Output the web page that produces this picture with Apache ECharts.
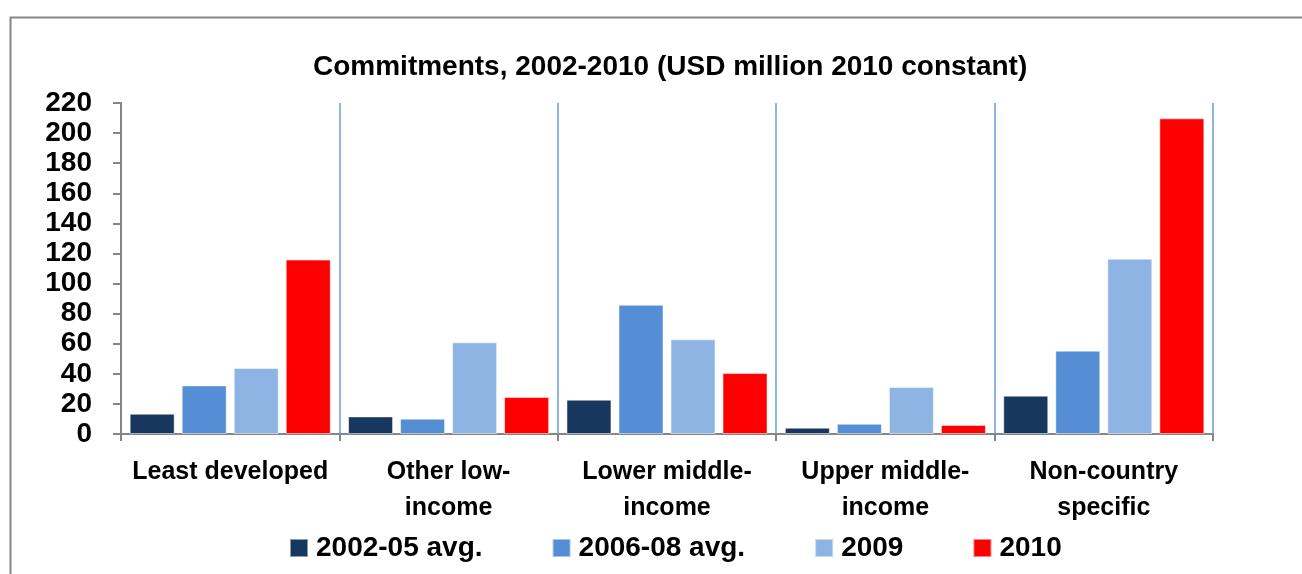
<!DOCTYPE html>
<html>
<head>
<meta charset="utf-8">
<script src="https://cdn.jsdelivr.net/npm/echarts@6/dist/echarts.min.js"></script>
<style>
  html, body { margin: 0; padding: 0; background: #fff; }
  #chart { width: 1302px; height: 574px; }
</style>
</head>
<body>
<div id="chart"></div>
<script>
const categories = ['Least developed', 'Other low-\nincome', 'Lower middle-\nincome', 'Upper middle-\nincome', 'Non-country\nspecific'];
const seriesNames = ['2002-05 avg.', '2006-08 avg.', '2009', '2010'];
const avg2002_05 = [13.5, 11.7, 22.8, 4.2, 25.5];
const avg2006_08 = [32.3, 10.2, 85.9, 6.8, 55.4];
const y2009 = [43.9, 60.9, 62.9, 31.2, 116.5];
const y2010 = [115.9, 24.6, 40.5, 6.0, 209.8];
const colors = ['#17375E', '#558ED5', '#8EB4E3', '#FF0000'];
const yTicks = { min: 0, max: 220, interval: 20 };

const FONT = '"Liberation Sans", Arial, sans-serif';
const chart = echarts.init(document.getElementById('chart'), null, { renderer: 'canvas' });
const dataList = [avg2002_05, avg2006_08, y2009, y2010];

chart.setOption({
  animation: false,
  color: colors,
  title: {
    text: 'Commitments, 2002-2010 (USD million 2010 constant)',
    left: 313, top: 53, padding: 0,
    textStyle: { fontFamily: FONT, fontWeight: 'bold', fontSize: 28, color: '#000' }
  },
  graphic: [{
    type: 'rect', left: 8, top: 15, silent: true,
    shape: { x: 0, y: 0, width: 1400, height: 700 },
    style: { fill: 'none', stroke: '#868686', lineWidth: 2 }
  }],
  legend: {
    left: 289, top: 534, padding: 0,
    icon: 'rect', itemWidth: 18, itemHeight: 18, itemGap: 69,
    textStyle: { fontFamily: FONT, fontWeight: 'bold', fontSize: 28, color: '#000', padding: [0, 0, 0, 3] },
    data: seriesNames
  },
  grid: { left: 121, right: 89, top: 103, bottom: 140, containLabel: false },
  xAxis: {
    type: 'category',
    data: categories,
    axisLine: { lineStyle: { color: '#868686', width: 2 } },
    axisTick: { show: true, length: 7, lineStyle: { color: '#868686', width: 2 } },
    splitLine: { show: true, lineStyle: { color: '#8EB4E3', width: 2 } },
    axisLabel: { margin: 20, interval: 0, fontFamily: FONT, fontWeight: 'bold', fontSize: 25, color: '#000', lineHeight: 36 }
  },
  yAxis: {
    type: 'value',
    min: yTicks.min, max: yTicks.max, interval: yTicks.interval,
    axisLine: { show: true, lineStyle: { color: '#868686', width: 2 } },
    axisTick: { show: true, length: 8, lineStyle: { color: '#868686', width: 2 } },
    splitLine: { show: false },
    axisLabel: { margin: 29, fontFamily: FONT, fontWeight: 'bold', fontSize: 28, color: '#000' }
  },
  series: seriesNames.map((name, i) => ({
    name, type: 'bar',
    data: dataList[i],
    barWidth: 45,
    barGap: '15.6%',
    itemStyle: { color: colors[i], borderColor: 'rgba(255,255,255,0.5)', borderWidth: 1 }
  }))
});
</script>
</body>
</html>
